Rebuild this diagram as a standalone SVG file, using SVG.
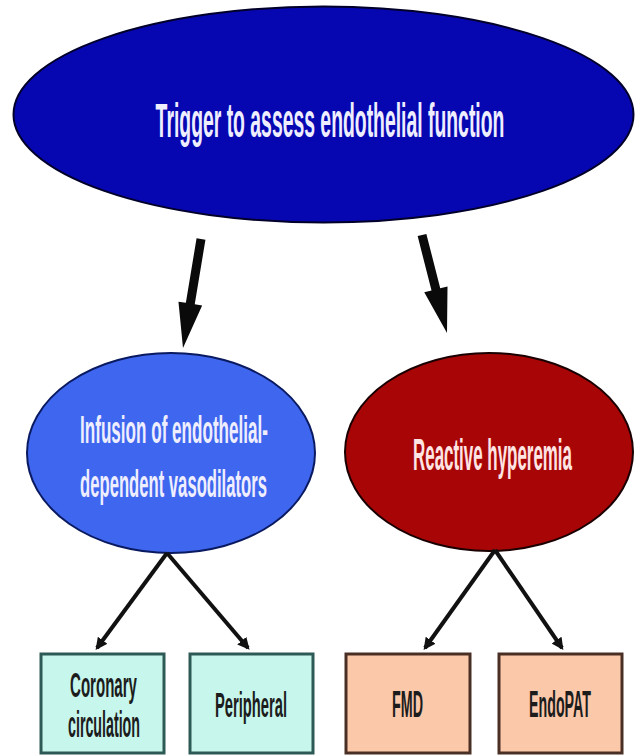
<svg xmlns="http://www.w3.org/2000/svg" width="635" height="755" viewBox="0 0 635 755">
<defs>
<marker id="ah" viewBox="0 0 10 10" refX="8" refY="5" markerWidth="3" markerHeight="3" orient="auto" markerUnits="strokeWidth">
<path d="M0,0 L10,5 L0,10 z" fill="#111"/>
</marker>
</defs>
<style>
.t{font-family:"Liberation Sans",Arial,sans-serif;font-weight:bold;text-anchor:middle}
.w{fill:#eeeeff}
.pk{fill:#ffe4e4}
.dk{fill:#1c1c1c}
.conn{stroke:#111;stroke-width:4;fill:none}
.big{fill:#0a0a0a}
.bx1{fill:#c6f6ec;stroke:#2e5a55;stroke-width:3}
.bx2{fill:#fbc8aa;stroke:#4a3024;stroke-width:3}
</style>
<rect width="635" height="755" fill="#ffffff"/>
<g id="trigger">
<ellipse cx="323.5" cy="114.5" rx="310" ry="108" fill="#0707b2" stroke="#00002a" stroke-width="2"/>
<text class="t w" font-size="48" transform="translate(330,137) scale(0.4037,1)">Trigger to assess endothelial function</text>
</g>
<g id="infusion">
<ellipse cx="171" cy="453" rx="144" ry="100" fill="#3f66ee" stroke="#0a1a60" stroke-width="2"/>
<text class="t w" font-size="39" transform="translate(174,443) scale(0.4382,1)">Infusion of endothelial-</text>
<text class="t w" font-size="39" transform="translate(173.5,497) scale(0.4271,1)">dependent vasodilators</text>
</g>
<g id="reactive">
<ellipse cx="489" cy="452" rx="144" ry="99" fill="#a80606" stroke="#1a0000" stroke-width="2"/>
<text class="t pk" font-size="45" transform="translate(492.5,470) scale(0.3761,1)">Reactive hyperemia</text>
</g>
<g id="coronary">
<rect class="bx1" x="41" y="654" width="123" height="99"/>
<text class="t dk" font-size="36" transform="translate(103.5,697) scale(0.4187,1)">Coronary</text>
<text class="t dk" font-size="36" transform="translate(104,737) scale(0.3955,1)">circulation</text>
</g>
<g id="peripheral">
<rect class="bx1" x="190" y="654" width="123" height="99"/>
<text class="t dk" font-size="36" transform="translate(251,717) scale(0.4089,1)">Peripheral</text>
</g>
<g id="fmd">
<rect class="bx2" x="346" y="654" width="124" height="99"/>
<text class="t dk" font-size="36" transform="translate(407.5,717) scale(0.3976,1)">FMD</text>
</g>
<g id="endopat">
<rect class="bx2" x="499" y="654" width="123" height="99"/>
<text class="t dk" font-size="36" transform="translate(560,717) scale(0.3951,1)">EndoPAT</text>
</g>
<g id="connectors">
<polygon class="big" points="196.56,238.27 185.86,302.87 178.46,301.64 183,348 202.14,305.56 194.74,304.33 205.44,239.73"/>
<polygon class="big" points="417.64,236.11 431.52,290.49 424.25,292.35 447,333 447.51,286.41 440.24,288.27 426.36,233.89"/>
<line class="conn" x1="167" y1="553" x2="97" y2="648" marker-end="url(#ah)"/>
<line class="conn" x1="167" y1="553" x2="248" y2="648" marker-end="url(#ah)"/>
<line class="conn" x1="495" y1="550" x2="425" y2="648" marker-end="url(#ah)"/>
<line class="conn" x1="495" y1="550" x2="562" y2="648" marker-end="url(#ah)"/>
</g>
</svg>
